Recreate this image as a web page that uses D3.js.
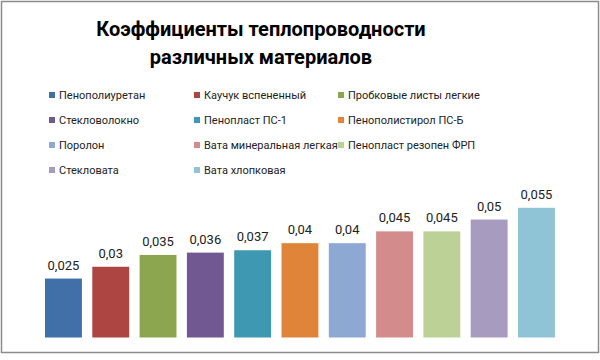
<!DOCTYPE html>
<html>
<head>
<meta charset="utf-8">
<script src="https://cdn.jsdelivr.net/npm/d3@7"></script>
<style>
  body { margin: 0; background: #fff; }
  svg { display: block; }
</style>
</head>
<body>
<div id="chart"></div>
<script>
// chart data: materials and their thermal conductivity
const materials = ["Пенополиуретан", "Каучук вспененный", "Пробковые листы легкие",
    "Стекловолокно", "Пенопласт ПС-1", "Пенополистирол ПС-Б",
    "Поролон", "Вата минеральная легкая", "Пенопласт резопен ФРП",
    "Стекловата", "Вата хлопковая"];
const values = [0.025, 0.03, 0.035, 0.036, 0.037, 0.04, 0.04, 0.045, 0.045, 0.05, 0.055];
const colors = ["#4170a8", "#ad4543", "#8ca650", "#725892", "#3f98b1", "#e0843a",
    "#8ea8d4", "#d38c8b", "#bcd195", "#a89bc0", "#8fc3d6"];
const titleLines = ["Коэффициенты теплопроводности", "различных материалов"];

function graph(id) {
    let width = 600, height = 360;
    let font = "Roboto, 'Open Sans', sans-serif";

    let svg = d3.select(id).append("svg")
        .attr("width", width)
        .attr("height", height);

    // outer frame
    svg.append("rect")
        .attr("x", 1.5).attr("y", 1.5)
        .attr("width", 597).attr("height", 351)
        .attr("fill", "#fff")
        .attr("stroke", "#8c8c8c")
        .attr("stroke-width", 1.5);

    // title, two lines
    svg.selectAll("text.title")
        .data(titleLines)
        .enter()
        .append("text")
        .attr("class", "title")
        .attr("x", 261)
        .attr("y", (d, i) => 36 + i * 28)
        .attr("text-anchor", "middle")
        .style("font-family", font)
        .style("font-weight", "bold")
        .style("font-size", "20px")
        .style("fill", "#000")
        .text(d => d);

    // legend: 3 columns, row-major
    let colX = [49, 194, 338];
    let legend = svg.selectAll("g.legend")
        .data(materials)
        .enter()
        .append("g")
        .attr("class", "legend")
        .attr("transform", (d, i) => `translate(${colX[i % 3]},${95 + Math.floor(i / 3) * 25})`);
    legend.append("rect")
        .attr("x", 0).attr("y", -3)
        .attr("width", 6).attr("height", 6)
        .style("fill", (d, i) => colors[i]);
    legend.append("text")
        .attr("x", 10)
        .attr("y", 4)
        .style("font-family", font)
        .style("font-size", "11px")
        .style("fill", "#222")
        .text(d => d);

    // bars
    let x = d3.scaleBand()
        .domain(materials)
        .range([39.8, 560.1])
        .paddingInner(0.22)
        .paddingOuter(0.11);
    let y = d3.scaleLinear()
        .domain([0, 0.06])
        .range([337.5, 196]);

    svg.selectAll("rect.bar")
        .data(values)
        .enter()
        .append("rect")
        .attr("class", "bar")
        .attr("x", (d, i) => x(materials[i]))
        .attr("y", d => y(d))
        .attr("width", x.bandwidth())
        .attr("height", d => y(0) - y(d))
        .style("fill", (d, i) => colors[i]);

    // value labels with comma decimal
    let fmt = d3.formatLocale({decimal: ",", thousands: " ", grouping: [3], currency: ["", ""]}).format(".3~f");
    svg.selectAll("text.value")
        .data(values)
        .enter()
        .append("text")
        .attr("class", "value")
        .attr("x", (d, i) => x(materials[i]) + x.bandwidth() / 2)
        .attr("y", d => y(d) - 9)
        .attr("text-anchor", "middle")
        .style("font-family", font)
        .style("font-size", "13px")
        .style("fill", "#222")
        .text(d => fmt(d));
}

graph("#chart");
</script>
</body>
</html>
